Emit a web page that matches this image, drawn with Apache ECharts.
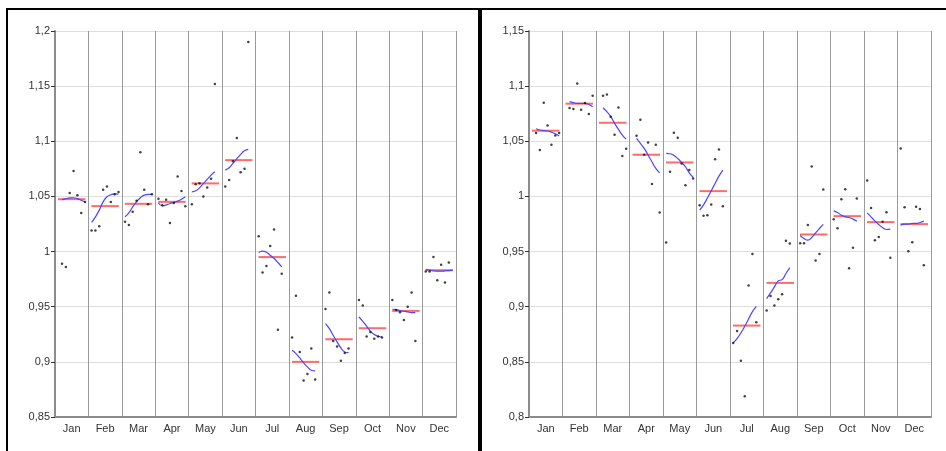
<!DOCTYPE html>
<html>
<head>
  <meta charset="UTF-8">
  <title></title>
  <script type="text/javascript" src="https://cdn.jsdelivr.net/npm/echarts@6/dist/echarts.min.js"></script>
  <style type="text/css">
    *{ margin: 0; padding: 0; box-sizing: border-box; }
    body{ background: #fff; }
    #main{ width: 946px; height: 451px; }
  </style>
</head>
<body>
  <div id="main"></div>
</body>
<script type="text/javascript">
  var months = ['Jan','Feb','Mar','Apr','May','Jun','Jul','Aug','Sep','Oct','Nov','Dec'];

  // left chart: SI ratios (dots), one slot per year
  var leftSI = [
    [null, 0.989, 0.986, 1.053, 1.073, 1.051, 1.035, 1.045],
    [1.019, 1.019, 1.023, 1.056, 1.059, 1.045, 1.052, 1.054],
    [1.027, 1.024, 1.036, 1.046, 1.090, 1.056, 1.043, 1.052],
    [1.048, 1.042, 1.047, 1.026, 1.044, 1.068, 1.055, 1.041],
    [1.043, 1.061, 1.062, 1.050, 1.058, 1.066, 1.152, null],
    [1.059, 1.065, 1.082, 1.103, 1.072, 1.075, 1.190, null],
    [1.014, 0.981, 0.987, 1.005, 1.020, 0.929, 0.980, null],
    [0.922, 0.960, 0.909, 0.883, 0.889, 0.912, 0.884, null],
    [0.948, 0.963, 0.919, 0.914, 0.901, 0.908, 0.912, null],
    [0.956, 0.951, 0.923, 0.927, 0.921, 0.923, 0.922, null],
    [0.956, 0.947, 0.945, 0.938, 0.950, 0.963, 0.919, null],
    [0.982, 0.982, 0.995, 0.974, 0.988, 0.972, 0.990, null]
  ];
  // left chart: seasonal factors (blue)
  var leftSF = [
    [null, 1.0470, 1.0480, 1.0487, 1.0488, 1.0480, 1.0465, 1.0450],
    [1.0264, 1.0315, 1.0376, 1.0451, 1.0497, 1.0515, 1.0524, 1.0521],
    [1.0315, 1.0351, 1.0406, 1.0451, 1.0488, 1.0512, 1.0518, 1.0518],
    [1.0442, 1.0415, 1.0421, 1.0436, 1.0445, 1.0457, 1.0475, 1.0497],
    [1.0542, 1.0551, 1.0578, 1.0618, 1.0654, 1.0693, 1.0723, null],
    [1.0739, 1.0760, 1.0799, 1.0841, 1.0881, 1.0914, 1.0926, null],
    [0.9991, 1.0004, 0.9994, 0.9967, 0.9937, 0.9901, 0.9861, null],
    [0.9105, 0.9075, 0.9036, 0.8990, 0.8954, 0.8924, 0.8918, null],
    [0.9347, 0.9302, 0.9241, 0.9181, 0.9126, 0.9090, 0.9084, null],
    [0.9407, 0.9368, 0.9323, 0.9277, 0.9247, 0.9232, 0.9226, null],
    [0.9477, 0.9474, 0.9465, 0.9459, 0.9453, 0.9447, 0.9447, null],
    [0.9840, 0.9831, 0.9825, 0.9822, 0.9822, 0.9825, 0.9828, 0.9831]
  ];
  // left chart: mean of seasonal factors (red)
  var leftMean = [1.0475, 1.0412, 1.0433, 1.0451, 1.0618, 1.0829, 0.9950, 0.9000, 0.9205, 0.9305, 0.9462, 0.9831];

  var rightSI = [
    [null, 1.0574, 1.0420, 1.0850, 1.0644, 1.0468, 1.0553, 1.0574],
    [null, 1.0801, 1.0792, 1.1025, 1.0786, 1.0847, 1.0747, 1.0913],
    [null, 1.0913, 1.0925, 1.0723, 1.0559, 1.0807, 1.0366, 1.0432],
    [null, 1.0550, 1.0695, 1.0378, 1.0490, 1.0112, 1.0468, 0.9854],
    [0.9582, 1.0223, 1.0577, 1.0532, 1.0299, 1.0102, 1.0239, 1.0163],
    [0.9921, 0.9824, 0.9830, 0.9927, 1.0338, 1.0426, 0.9912, null],
    [0.8672, 0.8780, 0.8511, 0.8188, 0.9192, 0.9479, 0.8859, null],
    [0.8965, 0.9098, 0.9010, 0.9068, 0.9113, 0.9597, 0.9573, null],
    [0.9576, 0.9576, 0.9742, 1.0272, 0.9419, 0.9479, 1.0063, null],
    [0.9794, 0.9712, 0.9975, 1.0066, 0.9349, 0.9534, 0.9981, null],
    [1.0145, 0.9894, 0.9603, 0.9631, 0.9770, 0.9857, 0.9443, null],
    [1.0435, 0.9903, 0.9504, 0.9585, 0.9906, 0.9885, 0.9377, null]
  ];
  var rightSF = [
    [null, 1.0614, 1.0602, 1.0596, 1.0593, 1.0583, 1.0568, 1.0547],
    [null, 1.0859, 1.0850, 1.0844, 1.0844, 1.0844, 1.0834, 1.0813],
    [null, 1.0804, 1.0768, 1.0723, 1.0662, 1.0608, 1.0556, 1.0520],
    [null, 1.0526, 1.0481, 1.0435, 1.0375, 1.0314, 1.0254, 1.0214],
    [1.0390, 1.0387, 1.0372, 1.0344, 1.0308, 1.0269, 1.0214, 1.0172],
    [0.9876, 0.9924, 0.9985, 1.0051, 1.0118, 1.0184, 1.0239, null],
    [0.8672, 0.8711, 0.8762, 0.8823, 0.8889, 0.8956, 0.9004, null],
    [0.9074, 0.9125, 0.9180, 0.9234, 0.9246, 0.9301, 0.9355, null],
    [0.9646, 0.9618, 0.9603, 0.9628, 0.9670, 0.9709, 0.9746, null],
    [0.9869, 0.9854, 0.9830, 0.9815, 0.9809, 0.9794, 0.9776, null],
    [0.9851, 0.9815, 0.9779, 0.9745, 0.9718, 0.9700, 0.9703, null],
    [0.9740, 0.9749, 0.9749, 0.9755, 0.9755, 0.9764, 0.9776, null]
  ];
  var rightMean = [1.0596, 1.0841, 1.0668, 1.0378, 1.0308, 1.0048, 0.8829, 0.9216, 0.9655, 0.9821, 0.9767, 0.9749];

  var leftRange = [0.85, 1.2];
  var rightRange = [0.8, 1.15];

  // position of year slot k inside month m
  function slotX(m, k){ return m + 0.095 + k * 0.115; }

  function fmt(v){ return String(+v.toFixed(2)).replace('.', ','); }

  function panelAxes(p, range){
    var xa = [
      {type:'category', gridIndex:p, data:months, position:'bottom',
       axisLine:{lineStyle:{color:'#8c8c8c', width:2}},
       axisTick:{length:4, lineStyle:{color:'#666'}},
       axisLabel:{color:'#333', fontSize:11, margin:6, fontFamily:'Liberation Sans'},
       splitLine:{show:false}},
      {type:'value', gridIndex:p, min:0, max:12, interval:1, position:'bottom',
       axisLine:{show:false}, axisTick:{show:false}, axisLabel:{show:false},
       splitLine:{show:true, lineStyle:{color:'#9a9a9a', width:1}}}
    ];
    var ya = {type:'value', gridIndex:p, min:range[0], max:range[1], interval:0.05,
      axisLine:{show:true, lineStyle:{color:'#8c8c8c', width:2}},
      axisTick:{show:true, length:4, lineStyle:{color:'#333'}},
      axisLabel:{color:'#333', fontSize:11, margin:5, fontFamily:'Liberation Sans', formatter:fmt},
      splitLine:{show:true, lineStyle:{color:'#dedede', width:1}}};
    return {x:xa, y:ya};
  }

  function panelSeries(p, si, sf, mean){
    var xi = p * 2 + 1, out = [], dots = [];
    for (var m = 0; m < 12; m++){
      out.push({type:'line', xAxisIndex:xi, yAxisIndex:p, symbol:'none', silent:true,
        lineStyle:{color:'#ff6a6a', width:2},
        data:[[m + 0.09, mean[m]], [m + 0.91, mean[m]]], z:2});
      var bl = [];
      for (var k = 0; k < 8; k++){
        if (sf[m][k] != null) bl.push([slotX(m, k), sf[m][k]]);
        if (si[m][k] != null) dots.push([slotX(m, k), si[m][k]]);
      }
      out.push({type:'line', xAxisIndex:xi, yAxisIndex:p, symbol:'none', silent:true, smooth:0.5,
        lineStyle:{color:'#4848ff', width:1.2}, data:bl, z:3});
    }
    out.push({type:'scatter', xAxisIndex:xi, yAxisIndex:p, symbolSize:2.5, silent:true,
      itemStyle:{color:'#111'}, data:dots, z:4});
    return out;
  }

  var a0 = panelAxes(0, leftRange), a1 = panelAxes(1, rightRange);
  var myChart = echarts.init(document.getElementById('main'));
  var option = {
    animation:false,
    grid:[
      {left:55, top:31, width:401, height:386},
      {left:529, top:31, width:402, height:386}
    ],
    xAxis: a0.x.concat(a1.x),
    yAxis: [a0.y, a1.y],
    series: panelSeries(0, leftSI, leftSF, leftMean).concat(panelSeries(1, rightSI, rightSF, rightMean)),
    graphic:[
      {type:'rect', shape:{x:6, y:8, width:940, height:2}, style:{fill:'#000'}},
      {type:'rect', shape:{x:6, y:8, width:2, height:443}, style:{fill:'#000'}},
      {type:'rect', shape:{x:478, y:8, width:4, height:443}, style:{fill:'#000'}}
    ]
  };
  myChart.setOption(option);
</script>
</html>
